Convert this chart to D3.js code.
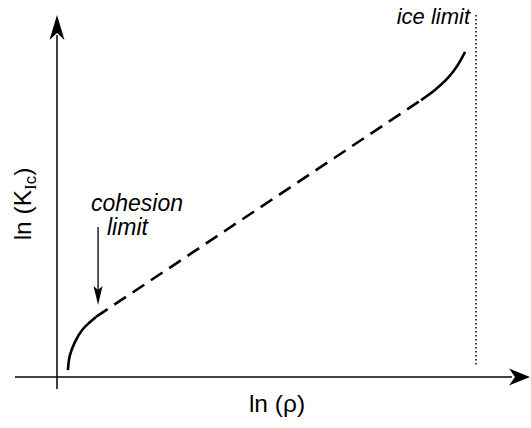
<!DOCTYPE html>
<html><head><meta charset="utf-8">
<script src="https://cdn.jsdelivr.net/npm/d3@7"></script>
<style>html,body{margin:0;padding:0;background:#fff;}svg{display:block;}</style>
</head><body>
<script>
// Schematic data (normalized ln(rho), ln(K_Ic))
const lowX = [0.026, 0.031, 0.043, 0.060, 0.079, 0.093];
const lowY = [0.019, 0.061, 0.097, 0.130, 0.152, 0.166];
const midX = [0.093, 0.869];
const midY = [0.166, 0.765];
const highX = [0.869, 0.902, 0.933, 0.955, 0.974];
const highY = [0.765, 0.793, 0.826, 0.859, 0.898];
const iceLimitX = 1.0;
const cohesionX = 0.098;
const xLabel = "ln (ρ)";
const yLabel = "ln (K";
const ySub = "Ic";
const iceLabel = "ice limit";
const cohesionLabel = ["cohesion", "limit"];

const W = 531, H = 428;
const svg = d3.select("body").append("svg").attr("width", W).attr("height", H);
const x = d3.scaleLinear().domain([0, 1]).range([57, 476]);
const y = d3.scaleLinear().domain([0, 1]).range([377, 15]);

// axes
svg.append("line").attr("x1", 15).attr("x2", 512).attr("y1", y(0)).attr("y2", y(0))
  .attr("stroke", "#444").attr("stroke-width", 2);
svg.append("path").attr("d", `M530,${y(0)} L509,${y(0)-8.5} L515,${y(0)} L509,${y(0)+8.5} Z`).attr("fill", "#000");
svg.append("line").attr("x1", x(0)).attr("x2", x(0)).attr("y1", 389).attr("y2", 35)
  .attr("stroke", "#000").attr("stroke-width", 1.5);
svg.append("path").attr("d", `M${x(0)},15 L${x(0)-7.5},40 L${x(0)},33 L${x(0)+7.5},40 Z`).attr("fill", "#000");

// ice limit dotted line
svg.append("line").attr("x1", x(iceLimitX)).attr("x2", x(iceLimitX)).attr("y1", 15).attr("y2", 367)
  .attr("stroke", "#000").attr("stroke-width", 1.5).attr("stroke-dasharray", "1.5,2.5");

const line = d3.line().x(d => x(d[0])).y(d => y(d[1])).curve(d3.curveCatmullRom);
const solidStyle = sel => sel.attr("fill", "none").attr("stroke", "#000").attr("stroke-width", 2.6).attr("stroke-linecap", "butt");
svg.append("path").attr("d", line(d3.zip(lowX, lowY))).call(solidStyle);
svg.append("path").attr("d", line(d3.zip(midX, midY))).call(solidStyle).attr("stroke-dasharray", "14,8");
svg.append("path").attr("d", line(d3.zip(highX, highY))).call(solidStyle);

// cohesion arrow
const cx = x(cohesionX);
svg.append("line").attr("x1", cx).attr("x2", cx).attr("y1", 227).attr("y2", 292)
  .attr("stroke", "#000").attr("stroke-width", 1.3);
svg.append("path").attr("d", `M${cx},305 L${cx-4.5},286 L${cx},290 L${cx+4.5},286 Z`).attr("fill", "#000");

const font = "'Liberation Sans', Arial, Helvetica, sans-serif";
svg.append("text").attr("x", 91).attr("y", 211).attr("font-family", font).attr("font-style", "italic")
  .attr("font-size", 23).text(cohesionLabel[0]);
svg.append("text").attr("x", 107).attr("y", 235).attr("font-family", font).attr("font-style", "italic")
  .attr("font-size", 23).text(cohesionLabel[1]);
svg.append("text").attr("x", 470).attr("y", 24).attr("text-anchor", "end").attr("font-family", font)
  .attr("font-style", "italic").attr("font-size", 22).text(iceLabel);

svg.append("text").attr("x", 277).attr("y", 412).attr("text-anchor", "middle").attr("font-family", font)
  .attr("font-size", 24.5).text(xLabel);

const yl = svg.append("text").attr("transform", "translate(31,204) rotate(-90)").attr("text-anchor", "middle")
  .attr("font-family", font).attr("font-size", 24.5);
yl.append("tspan").text(yLabel);
yl.append("tspan").attr("dy", 5).attr("font-size", 17).attr("font-family", "'Liberation Serif', serif").text(ySub[0]);
yl.append("tspan").attr("font-size", 17).text(ySub[1]);
yl.append("tspan").attr("dy", -5).text(")");
</script>
</body></html>
